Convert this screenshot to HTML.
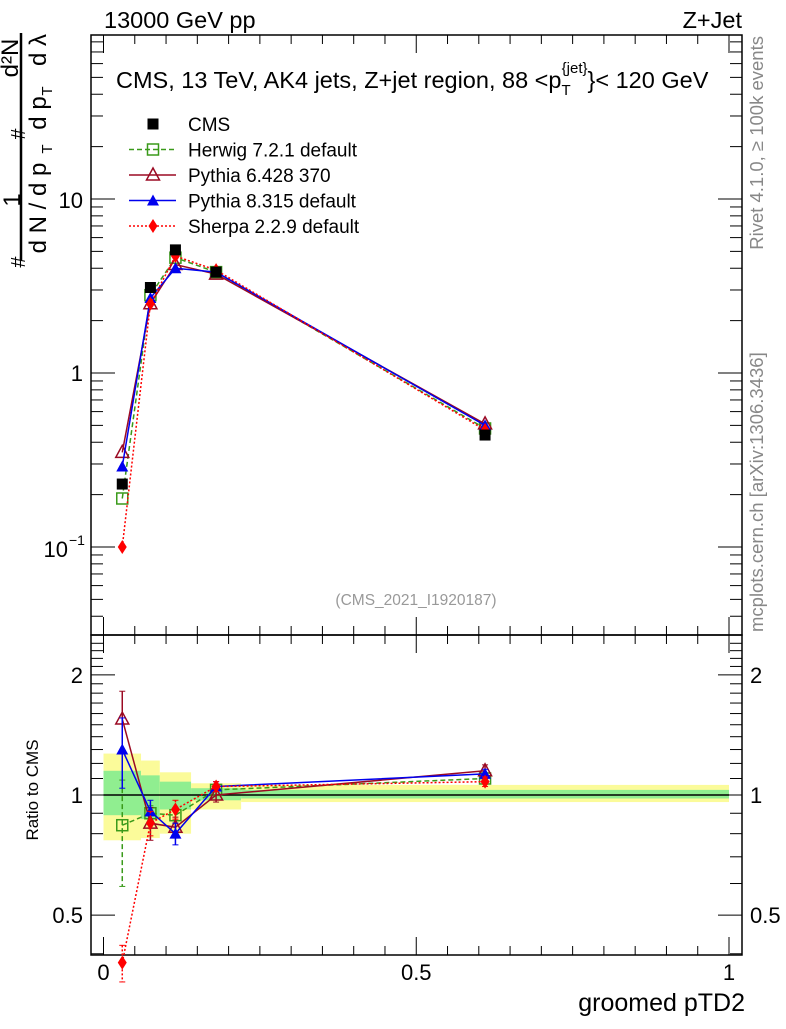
<!DOCTYPE html>
<html><head><meta charset="utf-8"><style>
body{margin:0;background:#fff}
svg text{font-family:"Liberation Sans",sans-serif}
</style></head><body>
<svg id="chart" xmlns="http://www.w3.org/2000/svg" width="786" height="1024" viewBox="0 0 786 1024">
<g id="g"></g>
</svg>
<script>
const xVals=[0.03,0.075,0.115,0.18,0.61];
const binEdges=[0,0.06,0.09,0.14,0.22,1.0];
const cmsVals=[0.23,3.1,5.1,3.8,0.44];
const herwigVals=[0.19,2.8,4.6,3.8,0.48];
const py6Vals=[0.35,2.5,4.2,3.7,0.51];
const py8Vals=[0.29,2.7,4.0,3.8,0.50];
const sherpaVals=[0.10,2.5,4.7,3.9,0.47];
const herwigRatio=[0.84,0.90,0.89,1.03,1.10];
const py6Ratio=[1.55,0.85,0.83,1.00,1.15];
const py8Ratio=[1.30,0.91,0.80,1.05,1.13];
const sherpaRatio=[0.38,0.85,0.92,1.05,1.08];
const herwigRatioErr=[0.25,0.04,0.04,0.03,0.03];
const py6RatioErr=[0.27,0.08,0.05,0.04,0.04];
const py8RatioErr=[0.26,0.06,0.05,0.03,0.03];
const sherpaRatioErr=[0.04,0.06,0.05,0.03,0.03];
const yellowHi=[1.27,1.22,1.14,1.07,1.06];
const yellowLo=[0.77,0.78,0.80,0.92,0.96];
const greenHi=[1.15,1.12,1.08,1.04,1.03];
const greenLo=[0.89,0.87,0.92,0.97,0.98];
const xTicks=[0,0.5,1];
const xTickLabels=["0","0.5","1"];

const L=91,R=742,T=35,M=635,B=955;
const X=v=>103.5+v*625.5;
const Y=v=>373-Math.log10(v)*174;
const YR=v=>795-Math.log10(v)*399;
const g=document.getElementById('g');
const NS='http://www.w3.org/2000/svg';
function el(tag,attrs,parent){const e=document.createElementNS(NS,tag);for(const k in attrs)e.setAttribute(k,attrs[k]);(parent||g).appendChild(e);return e;}
function txt(s,attrs){const e=el('text',attrs);e.textContent=s;return e;}

// bands
for(let i=0;i<5;i++){
 const y=el('rect',{x:X(binEdges[i]),y:YR(yellowHi[i]),width:X(binEdges[i+1])-X(binEdges[i]),height:YR(yellowLo[i])-YR(yellowHi[i]),fill:'#fbfb9a'});
 
 
 const gr=el('rect',{x:X(binEdges[i]),y:YR(greenHi[i]),width:X(binEdges[i+1])-X(binEdges[i]),height:YR(greenLo[i])-YR(greenHi[i]),fill:'#90ee90'});
 
 
}
el('line',{x1:X(0),x2:X(1),y1:YR(1),y2:YR(1),stroke:'#000','stroke-width':1.5});

// frames
el('rect',{x:L,y:T,width:R-L,height:M-T,fill:'none',stroke:'#000','stroke-width':1.5,});
el('rect',{x:L,y:M,width:R-L,height:B-M,fill:'none',stroke:'#000','stroke-width':1.5,});

// log ticks main
for(let d=-2;d<=1;d++)for(let m=1;m<10;m++){const v=m*Math.pow(10,d);const y=Y(v);if(y<T||y>M)continue;const len=m==1?24:12;
 el('line',{x1:L,x2:L+len,y1:y,y2:y,stroke:'#000'});el('line',{x1:R,x2:R-len,y1:y,y2:y,stroke:'#000'});}
txt('10',{x:83,y:208,'font-size':22,'text-anchor':'end'});
txt('1',{x:83,y:381,'font-size':22,'text-anchor':'end'});
txt('10',{x:68,y:557,'font-size':22,'text-anchor':'end'});
txt('−1',{x:69,y:545,'font-size':14});
// ratio ticks
for(let v=0.4;v<=2.5;v+=0.1){const y=YR(v);if(y<M||y>B)continue;const big=Math.abs(v-0.5)<1e-6||Math.abs(v-1)<1e-6||Math.abs(v-2)<1e-6;const len=big?24:12;
 el('line',{x1:L,x2:L+len,y1:y,y2:y,stroke:'#000'});el('line',{x1:R,x2:R-len,y1:y,y2:y,stroke:'#000'});}
[[2,'2'],[1,'1'],[0.5,'0.5']].forEach(([v,s])=>{txt(s,{x:83,y:YR(v)+8,'font-size':22,'text-anchor':'end'});txt(s,{x:750,y:YR(v)+8,'font-size':22});});
// x ticks
for(let v=0;v<=1.0001;v+=0.05){const big=Math.abs(v*2-Math.round(v*2))<1e-6;const len=big?18:9;
 [[T,1],[M,1],[M,-1],[B,-1]].forEach(([y0,s])=>el('line',{x1:X(v),x2:X(v),y1:y0,y2:y0+s*len,stroke:'#000'}));}
xTicks.forEach((v,i)=>{const t=txt(xTickLabels[i],{x:X(v),y:980,'font-size':22,'text-anchor':'middle'});});

// series
const series=[
 {name:'herwig',vals:herwigVals,rat:herwigRatio,err:herwigRatioErr,color:'#3a9a1a',dash:'5,3',mk:'osq'},
 {name:'pythia6',vals:py6Vals,rat:py6Ratio,err:py6RatioErr,color:'#9b0a23',dash:'',mk:'otri'},
 {name:'pythia8',vals:py8Vals,rat:py8Ratio,err:py8RatioErr,color:'#0000ee',dash:'',mk:'tri'},
 {name:'sherpa',vals:sherpaVals,rat:sherpaRatio,err:sherpaRatioErr,color:'#ff0000',dash:'2,2',mk:'dia'}];
function marker(type,x,y,c,p){
 if(type=='osq')return el('rect',{x:x-5.5,y:y-5.5,width:11,height:11,fill:'none',stroke:c,'stroke-width':1.5},p);
 if(type=='sq')return el('rect',{x:x-5.5,y:y-5.5,width:11,height:11,fill:c},p);
 if(type=='otri')return el('polygon',{points:`${x},${y-7} ${x-6.5},${y+5} ${x+6.5},${y+5}`,fill:'none',stroke:c,'stroke-width':1.5},p);
 if(type=='tri')return el('polygon',{points:`${x},${y-6} ${x-6},${y+5} ${x+6},${y+5}`,fill:c},p);
 return el('polygon',{points:`${x},${y-7} ${x-4.5},${y} ${x},${y+7} ${x+4.5},${y}`,fill:c},p);
}
series.forEach(s=>{
 const gm=el('g',{});
 el('polyline',{points:xVals.map((x,i)=>X(x)+','+Y(s.vals[i])).join(' '),fill:'none',stroke:s.color,'stroke-width':1.5,'stroke-dasharray':s.dash},gm);
 xVals.forEach((x,i)=>marker(s.mk,X(x),Y(s.vals[i]),s.color,gm));
 const gr=el('g',{});
 el('polyline',{points:xVals.map((x,i)=>X(x)+','+YR(s.rat[i])).join(' '),fill:'none',stroke:s.color,'stroke-width':1.5,'stroke-dasharray':s.dash},gr);
 xVals.forEach((x,i)=>{const hi=YR(s.rat[i]+s.err[i]),lo=YR(Math.max(0.3,s.rat[i]-s.err[i]));
  el('line',{x1:X(x),x2:X(x),y1:hi,y2:lo,stroke:s.color,'stroke-width':1.5,'stroke-dasharray':s.dash},gr);
  el('line',{x1:X(x)-3,x2:X(x)+3,y1:hi,y2:hi,stroke:s.color},gr);el('line',{x1:X(x)-3,x2:X(x)+3,y1:lo,y2:lo,stroke:s.color},gr);
  marker(s.mk,X(x),YR(s.rat[i]),s.color,gr);});
});
const gc=el('g',{});
xVals.forEach((x,i)=>marker('sq',X(x),Y(cmsVals[i]),'#000',gc));

// legend
const leg=[['CMS','#000','','sq'],['Herwig 7.2.1 default','#3a9a1a','5,3','osq'],['Pythia 6.428 370','#9b0a23','','otri'],['Pythia 8.315 default','#0000ee','','tri'],['Sherpa 2.2.9 default','#ff0000','2,2','dia']];
leg.forEach((l,i)=>{const y=124+i*25.5;const lg=el('g',{});
 if(i>0)el('line',{x1:129,x2:176,y1:y,y2:y,stroke:l[1],'stroke-width':1.5,'stroke-dasharray':l[2]},lg);
 marker(l[3],153,y,l[1],lg);
 const t=el('text',{x:188,y:y+7,'font-size':19},lg);t.textContent=l[0];});

// texts
txt('13000 GeV pp',{x:104,y:28,'font-size':23.5,});
txt('Z+Jet',{x:742,y:28,'font-size':23.5,'text-anchor':'end',});
const tt=txt('',{x:116,y:88,'font-size':23.5,});
tt.innerHTML='CMS, 13 TeV, AK4 jets, Z+jet region, 88 &lt;p<tspan font-size="15" dy="7">T</tspan><tspan font-size="15" dy="-22" dx="-9">{jet}</tspan><tspan dy="15">}&lt; 120 GeV</tspan>';
txt('(CMS_2021_I1920187)',{x:416,y:605,'font-size':15.5,fill:'#999','text-anchor':'middle',});
txt('groomed pTD2',{x:745,y:1011,'font-size':25,'text-anchor':'end',});
txt('Ratio to CMS',{x:0,y:0,'font-size':17,'text-anchor':'middle',transform:'translate(38,790) rotate(-90)',});
const fr=el('g',{});
el('line',{x1:21,x2:21,y1:33,y2:260,stroke:'#000','stroke-width':2.5},fr);
[['1',20,200,24],['d N / d p',46,208,24],['T',52,149,15],['#',25,262,20],['d²N',18,58,24],['#',25,134,20],['d p',46,113,24],['T',52,91,15],['d λ',46,50,24]].forEach(a=>{const t=el('text',{x:0,y:0,'font-size':a[3],'text-anchor':'middle',transform:`translate(${a[1]},${a[2]}) rotate(-90)`},fr);t.textContent=a[0];});
txt('Rivet 4.1.0, ≥ 100k events',{x:0,y:0,'font-size':18.5,fill:'#888','text-anchor':'end',transform:'translate(763,36) rotate(-90)',});
txt('mcplots.cern.ch [arXiv:1306.3436]',{x:0,y:0,'font-size':18.5,fill:'#888',transform:'translate(763,632) rotate(-90)',});
</script>
</body></html>
